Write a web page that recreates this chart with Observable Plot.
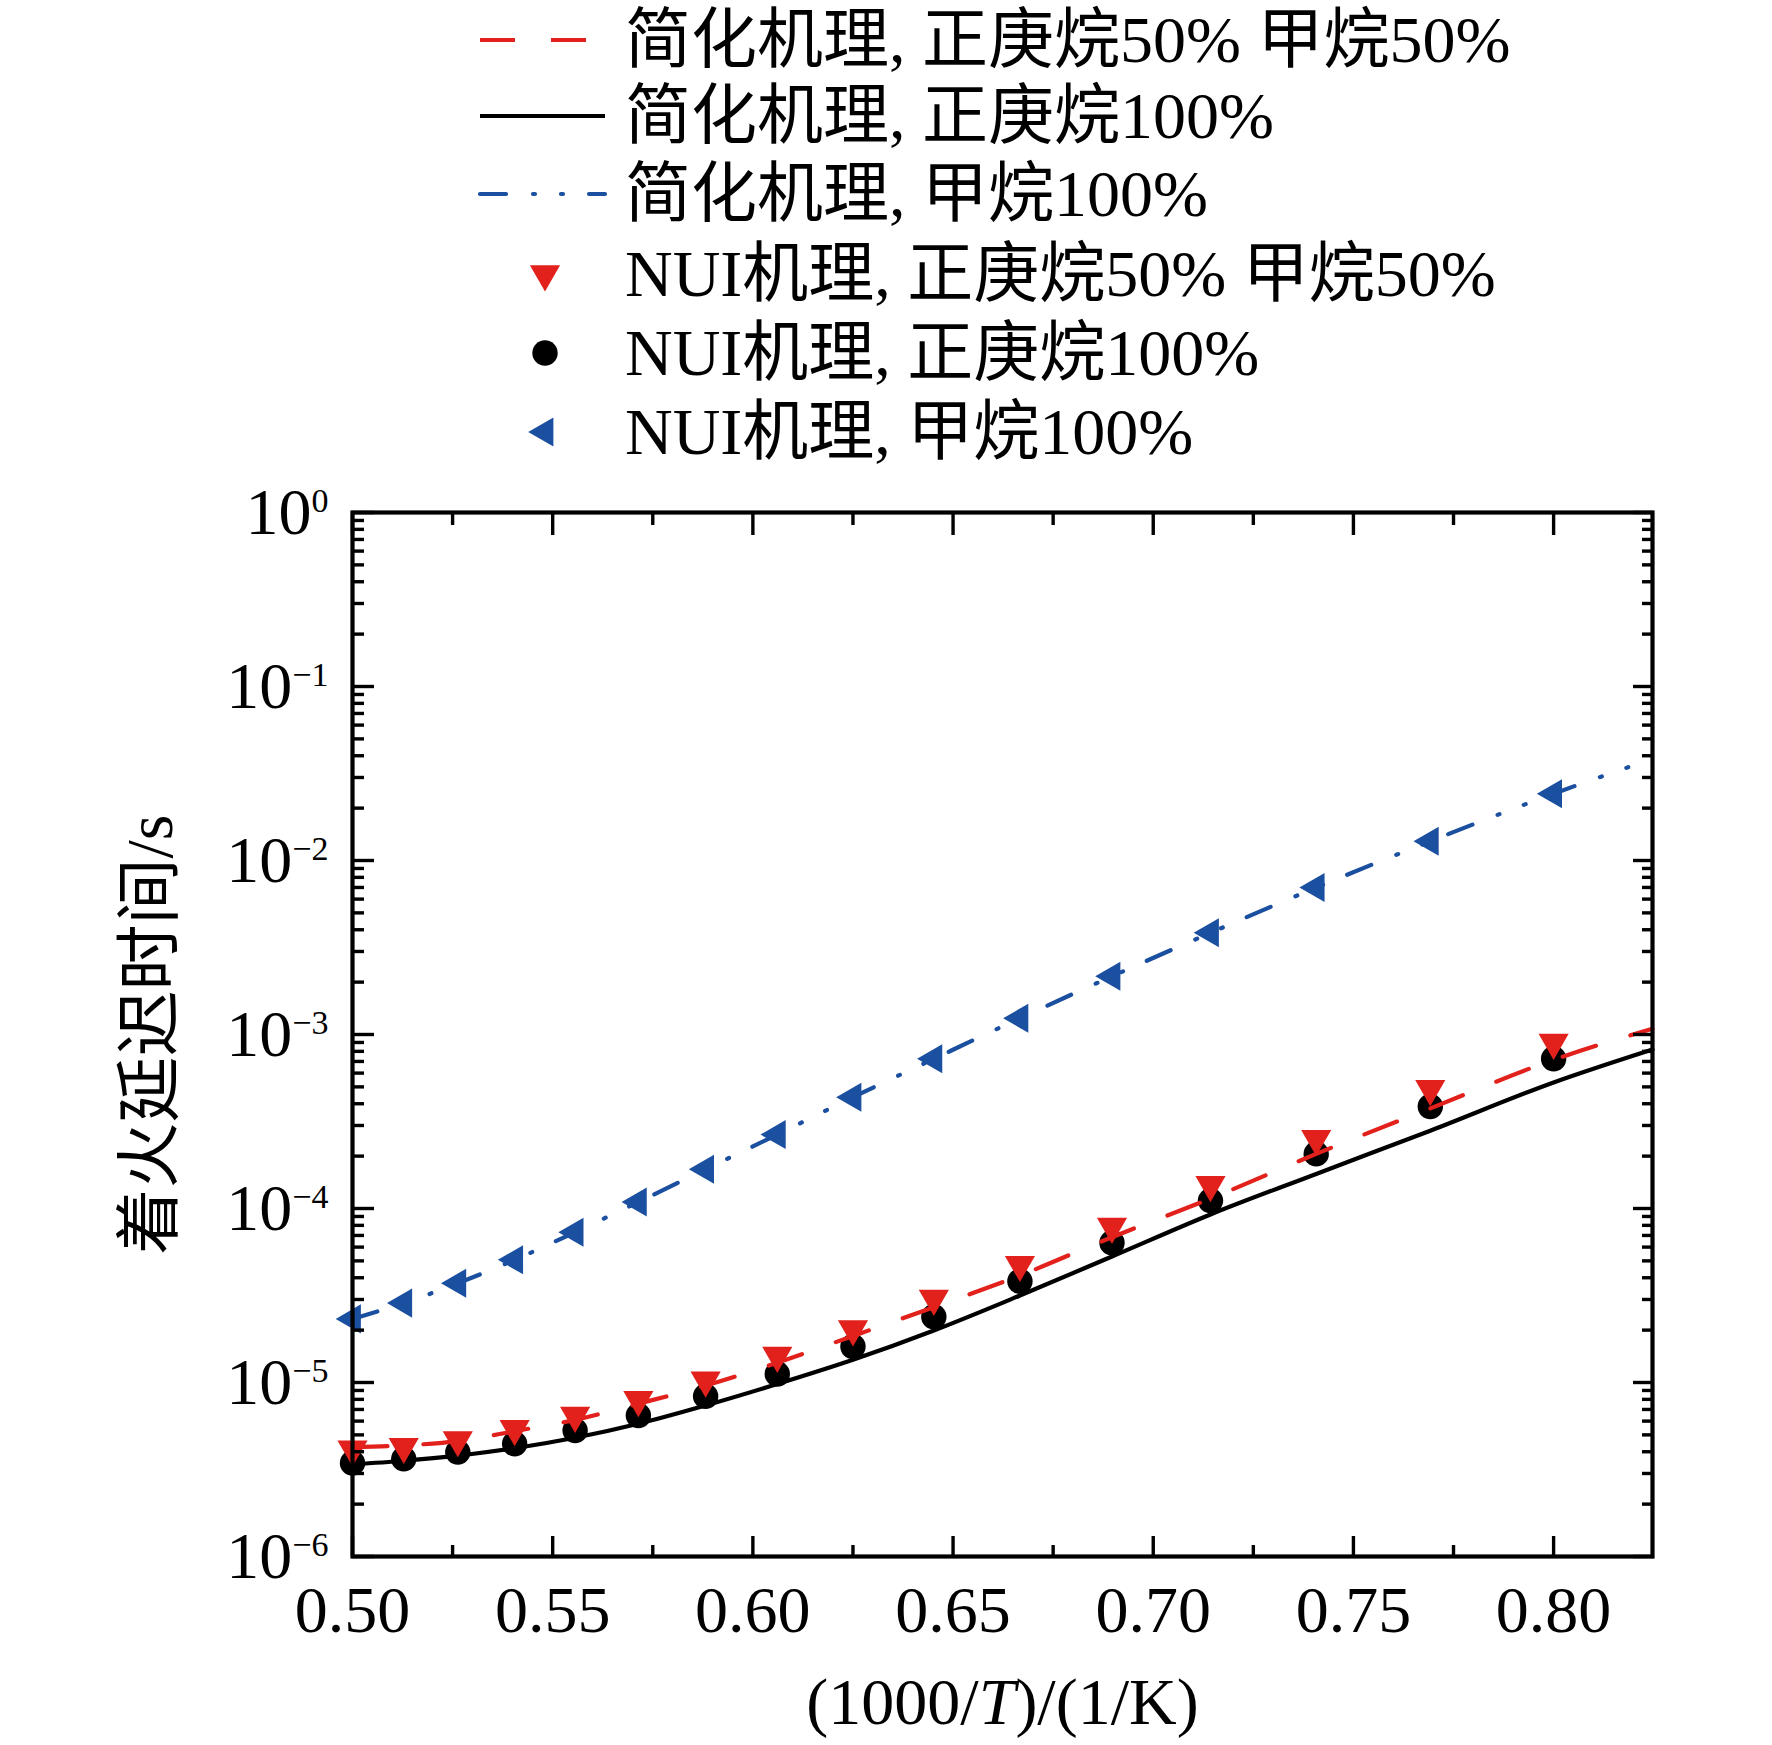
<!DOCTYPE html>
<html>
<head>
<meta charset="utf-8">
<script src="https://cdn.jsdelivr.net/npm/d3@7"></script>
<script src="https://cdn.jsdelivr.net/npm/@observablehq/plot@0.6"></script>
<style>
  html, body { margin: 0; padding: 0; background: #fff; }
  #wrap { width: 1772px; height: 1745px; position: relative; overflow: hidden;
          font-family: "Liberation Serif", "Noto Sans CJK SC", serif; color: #000; }
  #legend { position: relative; width: 1772px; height: 470px; }
  .row { position: absolute; left: 0; width: 1772px; height: 78px; }
  .row svg { position: absolute; left: 470px; top: 0; }
  .row span { position: absolute; left: 625px; top: 0; font-size: 66px; line-height: 78px; white-space: nowrap; }
  #chart svg { display: block; }
</style>
</head>
<body>
<div id="wrap">
  <div id="legend"></div>
  <div id="chart"></div>
</div>
<script>
// ---- data ----
// 1000/T for T = 2000 ... 1250 K (NUI mechanism points)
const xPts = [0.5000, 0.5128, 0.5263, 0.5405, 0.5556, 0.5714, 0.5882, 0.6061,
              0.6250, 0.6452, 0.6667, 0.6897, 0.7143, 0.7407, 0.7692, 0.8000];
// simplified-mechanism curves sampled at the same points plus the right edge
const xSim = [0.5000, 0.5128, 0.5263, 0.5405, 0.5556, 0.5714, 0.5882, 0.6061,
              0.6250, 0.6452, 0.6667, 0.6897, 0.7143, 0.7407, 0.7692, 0.8000, 0.8247];

const simMix  = [4.25e-6, 4.35e-6, 4.6e-6, 5.25e-6, 6.1e-6, 7.55e-6, 9.6e-6, 1.30e-5,
                 1.85e-5, 2.71e-5, 4.12e-5, 6.84e-5, 1.14e-4, 2.06e-4, 3.76e-4, 7.15e-4, 1.08e-3];
const simHep  = [3.38e-6, 3.55e-6, 3.80e-6, 4.19e-6, 4.81e-6, 5.79e-6, 7.38e-6, 9.8e-6,
                 1.35e-5, 1.99e-5, 3.16e-5, 5.3e-5, 9.24e-5, 1.58e-4, 2.8e-4, 5.3e-4, 8.2e-4];
const simMeth = [2.32e-5, 2.86e-5, 3.72e-5, 5.07e-5, 7.31e-5, 1.09e-4, 1.68e-4, 2.66e-4,
                 4.36e-4, 7.25e-4, 1.24e-3, 2.16e-3, 3.84e-3, 6.99e-3, 1.29e-2, 2.42e-2, 3.84e-2];

const nuiMix  = [4.14e-6, 4.28e-6, 4.68e-6, 5.42e-6, 6.46e-6, 7.96e-6, 1.03e-5, 1.43e-5,
                 2.03e-5, 3.04e-5, 4.76e-5, 7.88e-5, 1.37e-4, 2.52e-4, 4.88e-4, 9.0e-4];
const nuiHep  = [3.45e-6, 3.64e-6, 3.98e-6, 4.45e-6, 5.3e-6, 6.46e-6, 8.34e-6, 1.12e-5,
                 1.61e-5, 2.39e-5, 3.82e-5, 6.35e-5, 1.11e-4, 2.06e-4, 3.86e-4, 7.25e-4];
const nuiMeth = [2.32e-5, 2.86e-5, 3.72e-5, 5.07e-5, 7.31e-5, 1.09e-4, 1.68e-4, 2.66e-4,
                 4.36e-4, 7.25e-4, 1.24e-3, 2.16e-3, 3.84e-3, 6.99e-3, 1.29e-2, 2.42e-2];

const xMajor = [0.50, 0.55, 0.60, 0.65, 0.70, 0.75, 0.80];
const xMinor = [0.525, 0.575, 0.625, 0.675, 0.725, 0.775];
const yMajor = [1e-6, 1e-5, 1e-4, 1e-3, 1e-2, 1e-1, 1];
const yMinorMultipliers = [2, 3, 4, 5, 6, 7, 8, 9];

const legendLabels = [
  "简化机理, 正庚烷50% 甲烷50%",
  "简化机理, 正庚烷100%",
  "简化机理, 甲烷100%",
  "NUI机理, 正庚烷50% 甲烷50%",
  "NUI机理, 正庚烷100%",
  "NUI机理, 甲烷100%"
];
const xLabel = "(1000/T)/(1/K)";
const yLabel = "着火延迟时间/s";

// ---- styles ----
const RED = "#e3211c", BLUE = "#1b4f9f", BLACK = "#000000";
const LW = 4.2;
const redDash = "35,36";
const blueDash = "26,27,2,26,2,26";
const rCircle = 12.7, rTriDown = 11.2, rTriLeft = 10.8;

const yMinor = [];
for (const m of yMajor.slice(0, -1)) for (const k of yMinorMultipliers) yMinor.push(k * m);

const rows = (xs, ys) => xs.map((x, i) => ({x, y: ys[i]}));

const plot = Plot.plot({
  width: 1772,
  height: 1275,
  marginLeft: 352,
  marginRight: 120,
  marginTop: 42,
  marginBottom: 189,
  style: {fontFamily: '"Liberation Serif", "Noto Sans CJK SC", serif', fontSize: "66px", color: "#000", background: "#fff"},
  x: {domain: [0.5, 0.8247]},
  y: {type: "log", domain: [1e-6, 1]},
  marks: [
    Plot.line(rows(xSim, simHep), {x: "x", y: "y", stroke: BLACK, strokeWidth: LW, curve: "monotone-x"}),
    Plot.dot(rows(xPts, nuiHep), {x: "x", y: "y", r: rCircle, fill: BLACK, stroke: "none"}),
    Plot.line(rows(xSim, simMix), {x: "x", y: "y", stroke: RED, strokeWidth: LW, strokeDasharray: redDash, curve: "monotone-x"}),
    Plot.dot(rows(xPts, nuiMix), {x: "x", y: "y", symbol: "triangle", rotate: 180, r: rTriDown, fill: RED, stroke: "none"}),
    Plot.line(rows(xSim, simMeth), {x: "x", y: "y", stroke: BLUE, strokeWidth: LW, strokeDasharray: blueDash, strokeLinecap: "round", curve: "monotone-x"}),
    Plot.dot(rows(xPts, nuiMeth), {x: "x", y: "y", symbol: "triangle", rotate: -90, r: rTriLeft, fill: BLUE, stroke: "none"}),
    // axes (ticks point inward)
    Plot.axisX({anchor: "bottom", ticks: xMajor, tickSize: -20, tickPadding: 49, strokeWidth: 3.4,
                tickFormat: d3.format(".2f"), label: xLabel, labelAnchor: "center", labelOffset: 167, labelArrow: "none"}),
    Plot.axisX({anchor: "bottom", ticks: xMinor, tickSize: -11, strokeWidth: 3.4, tickFormat: () => "", label: null}),
    Plot.axisX({anchor: "top", ticks: xMajor, tickSize: -22, strokeWidth: 3.4, tickFormat: () => "", label: null}),
    Plot.axisX({anchor: "top", ticks: xMinor, tickSize: -12, strokeWidth: 3.4, tickFormat: () => "", label: null}),
    Plot.axisY({anchor: "left", ticks: yMajor, tickSize: -22, tickPadding: 46, strokeWidth: 3.4,
                tickFormat: d => String(Math.round(Math.log10(d))).replace("-", "\u2212"),
                label: yLabel, labelAnchor: "center", labelOffset: 227, labelArrow: "none"}),
    Plot.axisY({anchor: "left", ticks: yMinor, tickSize: -12, strokeWidth: 3.4, tickFormat: () => "", label: null}),
    Plot.axisY({anchor: "right", ticks: yMajor, tickSize: -20, strokeWidth: 3.4, tickFormat: () => "", label: null}),
    Plot.axisY({anchor: "right", ticks: yMinor, tickSize: -11, strokeWidth: 3.4, tickFormat: () => "", label: null}),
    Plot.frame({stroke: BLACK, strokeWidth: 4.2})
  ]
});
document.getElementById("chart").appendChild(plot);

// y tick labels as 10 with a superscript exponent
const NS = "http://www.w3.org/2000/svg";
plot.querySelectorAll('g[aria-label="y-axis tick label"] text').forEach(t => {
  const e = t.textContent;
  if (!e) return;
  t.textContent = "";
  const base = document.createElementNS(NS, "tspan");
  base.textContent = "10";
  const sup = document.createElementNS(NS, "tspan");
  sup.textContent = e;
  sup.setAttribute("font-size", "34");
  sup.setAttribute("dy", "-22");
  t.appendChild(base);
  t.appendChild(sup);
});
// italic T in the x label
plot.querySelectorAll('g[aria-label="x-axis label"] text').forEach(t => {
  const s = t.textContent;
  const i = s.indexOf("T");
  if (i < 0) return;
  t.textContent = "";
  const parts = [[s.slice(0, i), false], ["T", true], [s.slice(i + 1), false]];
  for (const [str, it] of parts) {
    const sp = document.createElementNS(NS, "tspan");
    sp.textContent = str;
    if (it) sp.setAttribute("font-style", "italic");
    t.appendChild(sp);
  }
});

// ---- legend ----
const legendCenters = [39.5, 116.4, 194.4, 273.5, 352.6, 431.7];
const legendKinds = [
  {type: "line", stroke: RED, dash: redDash, cap: "butt"},
  {type: "line", stroke: BLACK, dash: null, cap: "butt"},
  {type: "line", stroke: BLUE, dash: blueDash, cap: "round"},
  {type: "dot", symbol: d3.symbolTriangle, r: rTriDown, rotate: 180, fill: RED},
  {type: "dot", symbol: d3.symbolCircle, r: rCircle, rotate: 0, fill: BLACK},
  {type: "dot", symbol: d3.symbolTriangle, r: rTriLeft, rotate: -90, fill: BLUE}
];
const legend = d3.select("#legend");
legendLabels.forEach((lab, i) => {
  const row = legend.append("div").attr("class", "row").style("top", (legendCenters[i] - 39) + "px");
  const s = row.append("svg").attr("width", 145).attr("height", 78);
  const k = legendKinds[i];
  if (k.type === "line") {
    s.append("line").attr("x1", 10).attr("x2", 135).attr("y1", 39).attr("y2", 39)
      .attr("stroke", k.stroke).attr("stroke-width", LW)
      .attr("stroke-dasharray", k.dash).attr("stroke-linecap", k.cap);
  } else {
    s.append("path").attr("d", d3.symbol(k.symbol, Math.PI * k.r * k.r)())
      .attr("transform", `translate(75,39) rotate(${k.rotate})`).attr("fill", k.fill);
  }
  row.append("span").text(lab);
});
</script>
</body>
</html>
